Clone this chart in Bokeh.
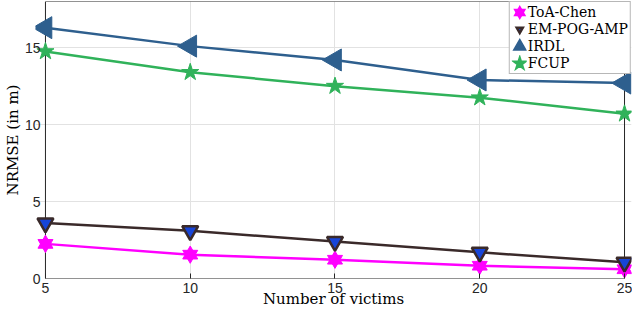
import numpy as np
from bokeh.plotting import figure
from bokeh.models import Range1d, FixedTicker, Legend, LegendItem
from bokeh.embed import file_html
from bokeh.resources import INLINE

# ---- data ----
victims = [5, 10, 15, 20, 25]
toa_chen = [2.25, 1.55, 1.22, 0.83, 0.6]
em_pog_amp = [3.6, 3.1, 2.4, 1.7, 1.05]
irdl = [16.3, 15.1, 14.2, 12.9, 12.7]
fcup = [14.75, 13.4, 12.5, 11.75, 10.7]
x_ticks = [5, 10, 15, 20, 25]
y_ticks = [0, 5, 10, 15]
y_top = 18

x_lo, x_hi = x_ticks[0], x_ticks[-1]
pad_l, pad_r = 0.344, 0.241

AX = "#262626"
SERIF = "DejaVu Serif"
SANS = "Liberation Sans"

p = figure(width=632, height=310, output_backend="svg", toolbar_location=None,
           x_range=Range1d(x_lo - pad_l, x_hi + pad_r), y_range=Range1d(0, y_top),
           min_border_left=33, min_border_right=1, min_border_top=1, min_border_bottom=32)
p.outline_line_color = None
p.background_fill_color = "white"

# axes
p.xaxis.ticker = FixedTicker(ticks=x_ticks)
p.yaxis.ticker = FixedTicker(ticks=y_ticks)
for ax in (p.xaxis, p.yaxis):
    ax.axis_line_color = None
    ax.minor_tick_line_color = None
    ax.major_label_text_font = SANS
    ax.major_label_text_font_size = "14px"
    ax.major_label_text_color = AX
    ax.axis_label_text_font = SERIF
    ax.axis_label_text_font_size = "15px"
    ax.axis_label_text_font_style = "normal"
    ax.axis_label_text_color = "black"
p.xaxis.major_tick_in = 5
p.xaxis.major_tick_out = 0
p.xaxis.major_tick_line_color = AX
p.xaxis.major_label_standoff = 4
p.xaxis.axis_label_standoff = -6
p.yaxis.major_tick_line_color = None
p.yaxis.major_tick_in = 0
p.yaxis.major_tick_out = 0
p.yaxis.major_label_standoff = -5
p.yaxis.axis_label_standoff = 0
p.xaxis.axis_label = "Number of victims"
p.yaxis.axis_label = "NRMSE (in m)"

p.xgrid.grid_line_color = "#E2E2E2"
p.ygrid.grid_line_color = "#E2E2E2"

# axes box
p.quad(left=[x_lo], right=[x_hi], bottom=[0], top=[y_top], fill_color=None,
       line_color=AX, line_width=1)

LW = 2.5
NAN = np.array([np.nan])  # legend-only proxies (not drawn in the plot)
items = []

def proxy(marker, fill, line, lw, angle=0.0):
    return p.scatter(NAN, NAN, marker=marker, angle=angle, size=8, fill_color=fill,
                     line_color=line, line_width=lw, line_join="miter")

# ToA-Chen (hexagram from two triangles)
c = "#FF00FF"
p.line(victims, toa_chen, line_color=c, line_width=LW)
p.scatter(victims, toa_chen, marker="triangle", size=15, fill_color=c, line_color=c)
p.scatter(victims, toa_chen, marker="inverted_triangle", size=15, fill_color=c, line_color=c)
items.append(LegendItem(label="ToA-Chen", renderers=[
    proxy("triangle", c, c, 4), proxy("inverted_triangle", c, c, 4)]))

# EM-POG-AMP
c = "#3A2A2A"
p.line(victims, em_pog_amp, line_color=c, line_width=LW)
p.scatter(victims, em_pog_amp, marker="inverted_triangle", size=16,
          fill_color="#1745D8", line_color=c, line_width=2.5)
items.append(LegendItem(label="EM-POG-AMP", renderers=[
    proxy("inverted_triangle", "#1745D8", c, 2.5)]))

# IRDL
c = "#2E5F8E"
p.line(victims, irdl, line_color=c, line_width=LW)
p.scatter(victims, irdl, marker="triangle", angle=np.pi / 2, size=22,
          fill_color=c, line_color=c)
items.append(LegendItem(label="IRDL", renderers=[
    proxy("triangle", c, c, 5, angle=np.pi / 2)]))

# FCUP
c = "#30B25A"
p.line(victims, fcup, line_color=c, line_width=LW)
p.scatter(victims, fcup, marker="star", size=18, fill_color=c, line_color=c)
items.append(LegendItem(label="FCUP", renderers=[proxy("star", c, c, 4)]))

legend = Legend(items=items, location="top_right")
legend.label_text_font = SERIF
legend.label_text_font_size = "14px"
legend.label_text_color = "black"
legend.label_height = 16
legend.glyph_height = 16
legend.glyph_width = 15
legend.label_standoff = 1
legend.spacing = 1
legend.padding = 2
legend.margin = 0
legend.border_line_color = "#707070"
legend.border_line_width = 1
legend.background_fill_color = "white"
legend.background_fill_alpha = 1
p.add_layout(legend)

open("out.html", "w").write(file_html(p, INLINE))
